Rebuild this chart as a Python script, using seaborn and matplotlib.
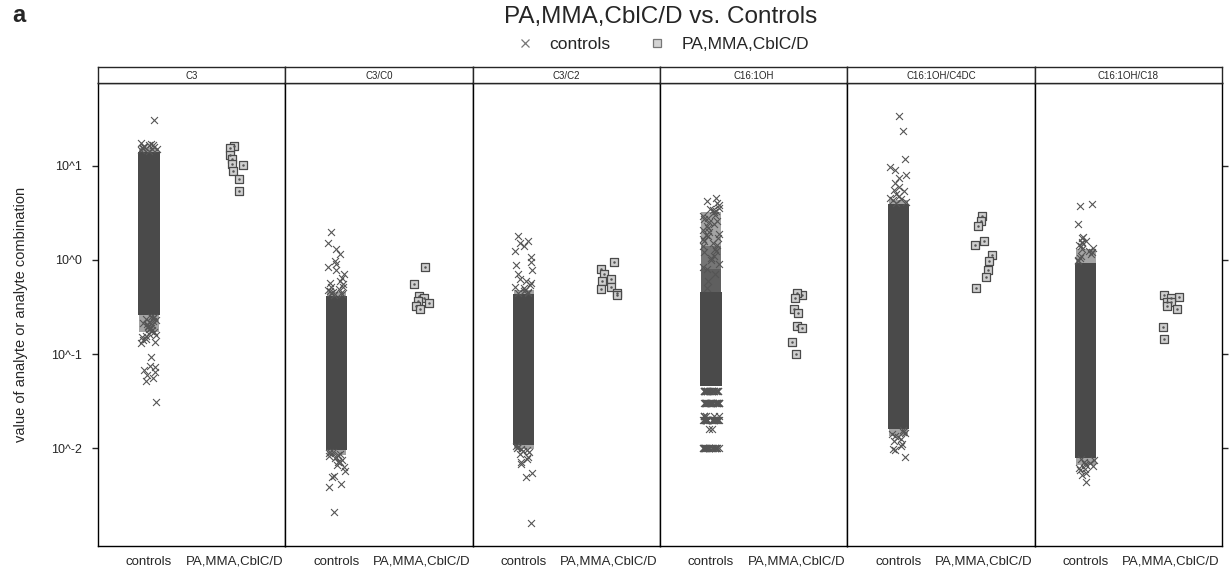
import numpy as np
import pandas as pd
import matplotlib.pyplot as plt
import seaborn as sns
from matplotlib.lines import Line2D

panels = ["C3", "C3/C0", "C3/C2", "C16:1OH", "C16:1OH/C4DC", "C16:1OH/C18"]
groups = ["controls", "PA,MMA,CblC/D"]

# solid body of the control cloud per panel (low, high)
ctrl_core = [(0.26, 14.0), (0.0095, 0.41), (0.0108, 0.43),
             (0.046, 0.46), (0.016, 3.9), (0.0078, 0.93)]

# mottled, less dense parts of the control cloud (low, high)
ctrl_haze = [
    [(0.17, 0.26), (14.0, 15.5)],
    [(0.0085, 0.0095), (0.41, 0.46)],
    [(0.0098, 0.0108), (0.43, 0.48)],
    [(0.46, 3.2), (0.46, 1.4), (0.46, 0.8)],
    [(0.0135, 0.016), (3.9, 4.3)],
    [(0.0066, 0.0078), (0.93, 1.3)],
]

# sparse control points (outliers / ragged edges of the cloud)
ctrl_c3 = [31.0, 17.5, 17.0, 16.8, 16.6, 16.2, 16.0, 15.8, 15.6, 15.5, 15.2,
           15.0, 14.8, 14.5,
           0.25, 0.245, 0.24, 0.235, 0.23, 0.225, 0.22, 0.215, 0.21, 0.205,
           0.2, 0.195, 0.19, 0.185, 0.18, 0.175, 0.17, 0.165, 0.16, 0.155,
           0.15, 0.145, 0.14, 0.135, 0.13,
           0.093, 0.075, 0.072, 0.068, 0.064, 0.060, 0.056, 0.052, 0.031]
ctrl_c3_c0 = [2.0, 1.5, 1.3, 1.15, 0.98, 0.9, 0.85, 0.78, 0.71, 0.65, 0.6,
              0.57, 0.55, 0.52, 0.51, 0.49, 0.48, 0.47, 0.46, 0.45, 0.44,
              0.43, 0.42,
              0.0092, 0.009, 0.0088, 0.0086, 0.0085, 0.0082, 0.008, 0.0078,
              0.0075, 0.0072, 0.0071, 0.0066, 0.0063, 0.0057, 0.005, 0.0049,
              0.0042, 0.0039, 0.0021]
ctrl_c3_c2 = [1.8, 1.6, 1.5, 1.4, 1.25, 1.07, 0.95, 0.88, 0.79, 0.7, 0.63,
              0.6, 0.57, 0.54, 0.51, 0.5, 0.48, 0.47, 0.46, 0.45, 0.44,
              0.0105, 0.0102, 0.01, 0.0098, 0.0095, 0.0093, 0.009, 0.0086,
              0.0081, 0.0076, 0.0072, 0.0068, 0.0055, 0.0049, 0.0016]
ctrl_c16 = ([4.5, 4.2, 4.0, 3.8, 3.6, 3.5, 3.4, 3.3, 3.2, 3.0, 2.9, 2.8, 2.7,
             2.6, 2.5, 2.4, 2.3, 2.2, 2.1, 2.0, 1.9, 1.85, 1.8, 1.7, 1.65,
             1.6, 1.5, 1.45, 1.4, 1.3, 1.25, 1.2, 1.1, 1.05, 1.0, 0.9, 0.85,
             0.8, 0.7, 0.6, 0.5]
            + [0.04] * 25 + [0.03] * 25 + [0.022] * 6 + [0.02] * 25
            + [0.016] * 2 + [0.01] * 25)
ctrl_c16_c4dc = [34.0, 23.4, 11.7, 9.8, 9.0, 7.9, 7.4, 6.5, 6.0, 5.6, 5.4,
                 5.0, 4.8, 4.6, 4.4, 4.3, 4.1, 4.0,
                 0.0155, 0.015, 0.0145, 0.014, 0.0135, 0.013, 0.0126, 0.012,
                 0.011, 0.0105, 0.0098, 0.0095, 0.0081]
ctrl_c16_c18 = [3.9, 3.7, 2.4, 1.74, 1.72, 1.6, 1.55, 1.5, 1.45, 1.4, 1.35,
                1.3, 1.25, 1.2, 1.15, 1.1, 1.05, 1.0, 0.97,
                0.0076, 0.0074, 0.0072, 0.007, 0.0068, 0.0066, 0.0065,
                0.0062, 0.006, 0.0058, 0.0055, 0.0052, 0.0044]

# patient values
case_c3 = [16.2, 15.5, 12.9, 11.7, 10.5, 10.2, 8.9, 7.2, 5.4]
case_c3_c0 = [0.85, 0.55, 0.41, 0.39, 0.37, 0.35, 0.32, 0.30]
case_c3_c2 = [0.95, 0.80, 0.71, 0.63, 0.59, 0.52, 0.49, 0.45, 0.42]
case_c16 = [0.42, 0.44, 0.39, 0.30, 0.27, 0.20, 0.19, 0.135, 0.10]
case_c16_c4dc = [2.9, 2.6, 2.3, 1.6, 1.45, 1.12, 0.98, 0.79, 0.66, 0.5]
case_c16_c18 = [0.42, 0.40, 0.39, 0.36, 0.355, 0.32, 0.30, 0.195, 0.145]

ctrl_lists = [ctrl_c3, ctrl_c3_c0, ctrl_c3_c2, ctrl_c16, ctrl_c16_c4dc, ctrl_c16_c18]
case_lists = [case_c3, case_c3_c0, case_c3_c2, case_c16, case_c16_c4dc, case_c16_c18]

rows = []
for name, cv, pv in zip(panels, ctrl_lists, case_lists):
    rows += [(name, groups[0], v) for v in cv]
    rows += [(name, groups[1], v) for v in pv]
df = pd.DataFrame(rows, columns=["panel", "group", "value"])

sns.set_style("ticks")
plt.rcParams["font.family"] = ["Liberation Sans", "DejaVu Sans"]

W, H = 1232, 575
fig = plt.figure(figsize=(W / 100, H / 100), dpi=100)

left, right = 98 / W, 1222 / W
pw = (right - left) / len(panels)
bottom, height = (H - 546) / H, (546 - 83) / H
strip_b, strip_h = (H - 83) / H, 16 / H

CORE = "#4a4a4a"
MARK = "#555555"

for i, name in enumerate(panels):
    ax = fig.add_axes([left + i * pw, bottom, pw, height])
    ax.set_yscale("log")
    sub = df[df.panel == name]

    np.random.seed(10 + i)
    sns.stripplot(data=sub[sub.group == groups[0]], x="group", y="value",
                  order=groups, marker="x", color=MARK, size=5, linewidth=0.8,
                  jitter=0.1, ax=ax, zorder=3)

    lo, hi = ctrl_core[i]
    ax.bar(0, hi - lo, bottom=lo, width=0.25, color=CORE, linewidth=0,
           zorder=2)
    for hlo, hhi in ctrl_haze[i]:
        ax.bar(0, hhi - hlo, bottom=hlo, width=0.23, color=CORE, alpha=0.5,
               linewidth=0, zorder=1)

    cases = sub[sub.group == groups[1]]
    np.random.seed(50 + i)
    sns.stripplot(data=cases, x="group", y="value", order=groups, marker="s",
                  color="#cfcfcf", edgecolor="#4a4a4a", linewidth=0.9,
                  size=5.5, jitter=0.1, ax=ax, zorder=4)
    np.random.seed(50 + i)
    sns.stripplot(data=cases, x="group", y="value", order=groups, marker="o",
                  color="#555555", size=1.8, linewidth=0, jitter=0.1, ax=ax,
                  zorder=5)

    ax.set_xlim(-0.6, 1.6)
    ax.set_ylim(10 ** -3.04, 10 ** 1.88)
    ax.set_xlabel("")
    ax.set_ylabel("")
    ax.set_xticks([0, 1])
    ax.set_xticklabels(groups, fontsize=9.5)
    ax.tick_params(axis="x", length=0, pad=7)
    ax.yaxis.set_minor_locator(plt.NullLocator())
    ax.set_yticks([10, 1, 0.1, 0.01])
    if i == 0:
        ax.set_yticklabels(["10^1", "10^0", "10^-1", "10^-2"], fontsize=9)
        ax.tick_params(axis="y", direction="out", length=4.5, width=1.0,
                       pad=7)
    elif i == len(panels) - 1:
        ax.yaxis.tick_right()
        ax.set_yticklabels([])
        ax.tick_params(axis="y", direction="out", length=4.5, width=1.0)
    else:
        ax.tick_params(axis="y", length=0, labelleft=False)
    for sp in ax.spines.values():
        sp.set_linewidth(1.0)
        sp.set_color("black")

    sax = fig.add_axes([left + i * pw, strip_b, pw, strip_h])
    sax.set_xticks([])
    sax.set_yticks([])
    for sp in sax.spines.values():
        sp.set_linewidth(1.0)
    sax.text(0.5, 0.45, name, ha="center", va="center", fontsize=7,
             transform=sax.transAxes)

fig.text(21 / W, 1 - 314 / H, "value of analyte or analyte combination",
         rotation=90, ha="center", va="center", fontsize=10.5)
fig.text(12 / W, 1 - 16 / H, "a", fontsize=17, fontweight="bold",
         ha="left", va="center")
fig.text(661 / W, 1 - 17 / H, "PA,MMA,CblC/D vs. Controls", fontsize=17.5,
         ha="center", va="center")

handles = [
    Line2D([], [], marker="x", linestyle="none", color="#777777",
           markersize=6, markeredgewidth=0.9),
    Line2D([], [], marker="s", linestyle="none", markerfacecolor="#d4d4d4",
           markeredgecolor="#777777", markersize=6, markeredgewidth=0.9),
]
fig.legend(handles, groups, loc="center", bbox_to_anchor=(658 / W, 1 - 44 / H),
           ncol=2, frameon=False, fontsize=12.5, handletextpad=0.4,
           columnspacing=1.7)

fig.savefig("out.png", dpi=100)
